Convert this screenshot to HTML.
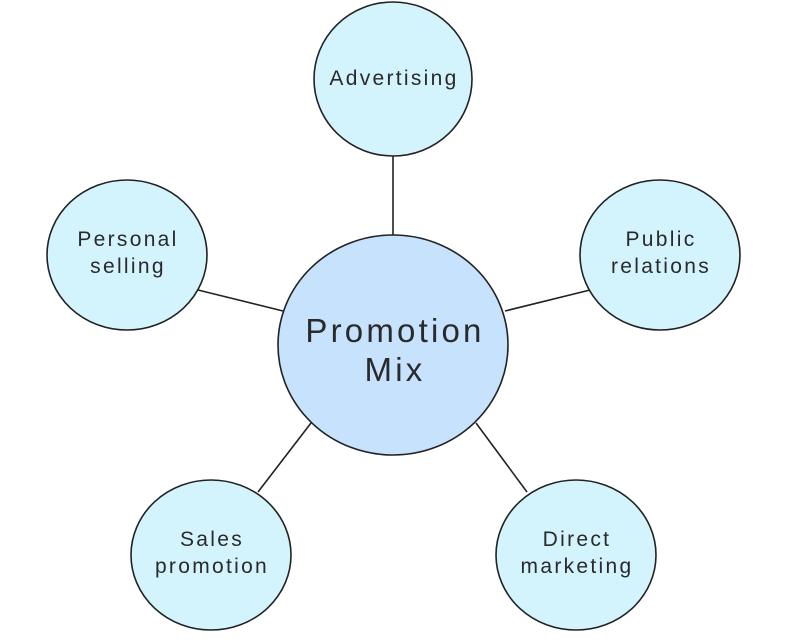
<!DOCTYPE html>
<html><head><style>body{margin:0;background:#fff}</style></head><body>
<svg width="791" height="635" viewBox="0 0 791 635" xmlns="http://www.w3.org/2000/svg" font-family="Liberation Sans, sans-serif" fill="#222">
<g stroke="#222" stroke-width="1.6">
<line x1="393" y1="156" x2="393" y2="236"/>
<line x1="198" y1="290" x2="283" y2="311"/>
<line x1="505" y1="311" x2="590" y2="290"/>
<line x1="258" y1="492" x2="311" y2="423"/>
<line x1="476" y1="423" x2="527" y2="492"/>
<ellipse cx="393" cy="345" rx="115" ry="110" fill="#c6e2fd"/>
<ellipse cx="393" cy="79" rx="79" ry="77" fill="#d3f4fd"/>
<ellipse cx="127" cy="255" rx="80" ry="75" fill="#d3f4fd"/>
<ellipse cx="660" cy="255" rx="80" ry="75" fill="#d3f4fd"/>
<ellipse cx="211" cy="555" rx="80" ry="75" fill="#d3f4fd"/>
<ellipse cx="576" cy="555" rx="80" ry="75" fill="#d3f4fd"/>
</g>
<g text-anchor="middle" font-size="21" letter-spacing="2.3" stroke="none" fill="#2a2a2a">
<text x="394" y="85">Advertising</text>
<text x="128" y="246">Personal</text><text x="128" y="273">selling</text>
<text x="661" y="246">Public</text><text x="661" y="273">relations</text>
<text x="212" y="546">Sales</text><text x="212" y="573">promotion</text>
<text x="577" y="546">Direct</text><text x="577" y="573">marketing</text>
<text x="395" y="342" font-size="33" letter-spacing="3.2">Promotion</text>
<text x="395" y="381" font-size="33" letter-spacing="3.2">Mix</text>
</g>
</svg>
</body></html>
